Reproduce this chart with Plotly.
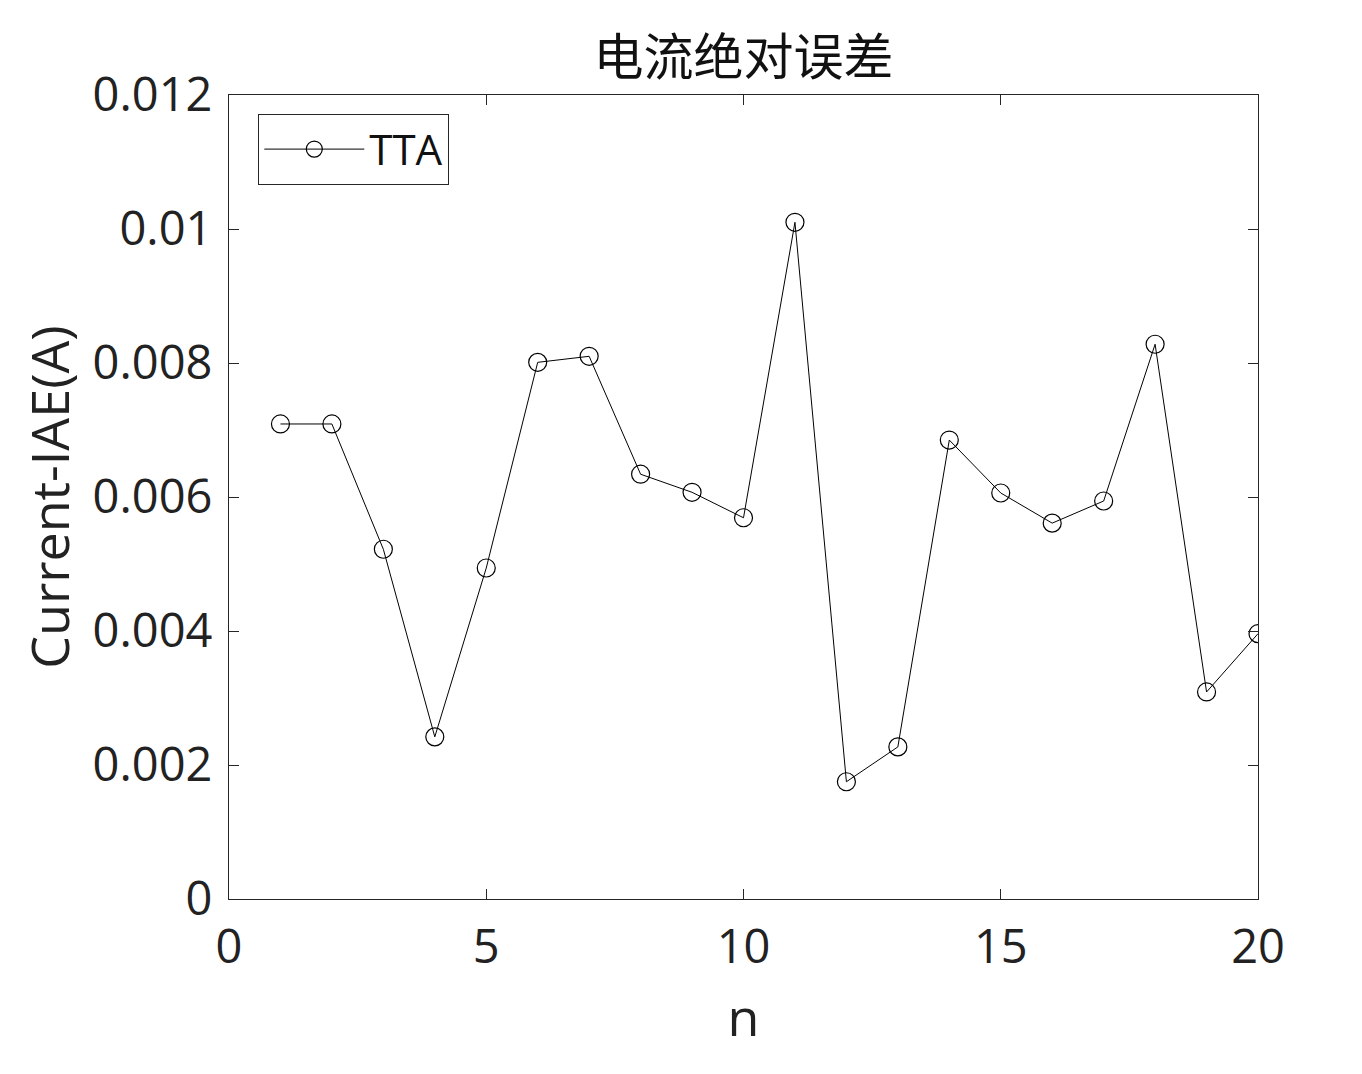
import plotly.graph_objects as go

n = list(range(1, 21))
iae = [0.00709, 0.00709, 0.00522, 0.00242, 0.00494, 0.00801, 0.00810, 0.00634,
       0.00607, 0.00569, 0.01010, 0.00175, 0.00227, 0.00685, 0.00606, 0.00561,
       0.00594, 0.00828, 0.00309, 0.00396]

x_ticks = [0, 5, 10, 15, 20]
y_ticks = [0, 0.002, 0.004, 0.006, 0.008, 0.01, 0.012]
y_tick_labels = ["0", "0.002", "0.004", "0.006", "0.008", "0.01", "0.012"]

FONT = "Open Sans, Noto Sans CJK SC, sans-serif"
AX = "#262626"

fig = go.Figure()
fig.add_trace(go.Scatter(
    x=n, y=iae, mode="lines+markers", name="TTA",
    line=dict(color="black", width=1),
    marker=dict(symbol="circle-open", size=18, color="black", line=dict(width=1.2, color="black")),
))

axis_common = dict(
    showgrid=False, zeroline=False, showline=True, linecolor=AX, linewidth=1.3,
    mirror="ticks", ticks="inside", ticklen=10, tickcolor=AX, tickwidth=1,
    tickfont=dict(family=FONT, size=47, color="#222"),
)

fig.update_layout(
    width=1362, height=1074,
    paper_bgcolor="white", plot_bgcolor="white",
    margin=dict(l=221, r=112, t=87, b=183),
    title=dict(text="电流绝对误差", x=0.5, xref="paper", xanchor="center", y=1 - 49 / 1074, yanchor="middle",
               font=dict(family="Noto Sans CJK SC, sans-serif", size=50, color="#111")),
    xaxis=dict(range=[0, 20], tickvals=x_ticks, ticktext=[str(v) for v in x_ticks],
               title=dict(text="n", font=dict(family=FONT, size=52, color="#222"), standoff=24),
               ticklabelstandoff=6,
               **axis_common),
    yaxis=dict(range=[0, 0.012], tickvals=y_ticks, ticktext=y_tick_labels,
               title=dict(text="Current-IAE(A)", font=dict(family=FONT, size=52, color="#222"), standoff=6),
               ticklabelstandoff=6,
               **axis_common),
    showlegend=True,
    legend=dict(x=(258 - 229) / 1029, y=1 - (114 - 95) / 804, xanchor="left", yanchor="top",
                bgcolor="white", bordercolor=AX, borderwidth=1.3,
                font=dict(family=FONT, size=42, color="#111"), itemwidth=100),
)

fig.write_html("out.html")
